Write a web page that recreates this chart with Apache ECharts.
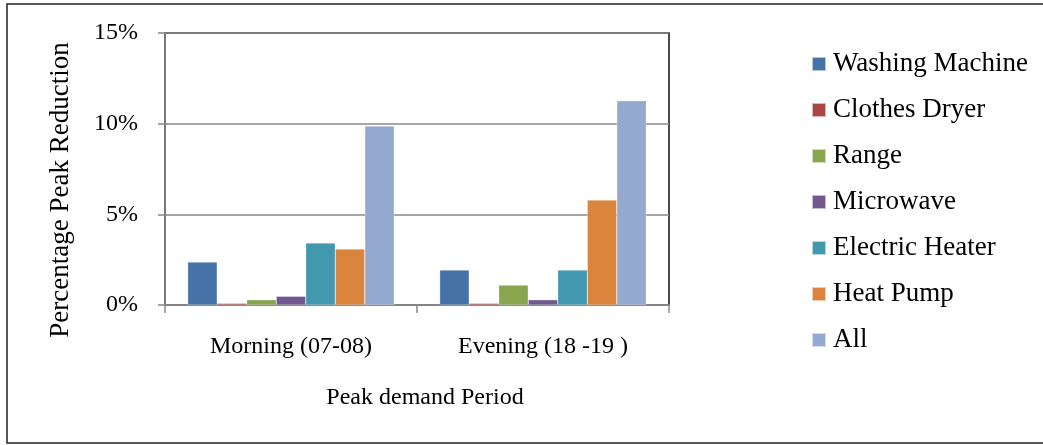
<!DOCTYPE html>
<html>
<head>
<meta charset="utf-8">
<script src="https://cdn.jsdelivr.net/npm/echarts@6/dist/echarts.min.js"></script>
<style>html,body{margin:0;padding:0;background:#fff}#c{width:1043px;height:445px}</style>
</head>
<body>
<div id="c"></div>
<script>
const categories = ['Morning (07-08)', 'Evening (18 -19 )'];
const seriesNames = ['Washing Machine', 'Clothes Dryer', 'Range', 'Microwave', 'Electric Heater', 'Heat Pump', 'All'];
const washingMachine = [2.37, 1.93];
const clothesDryer = [0.09, 0.09];
const range = [0.29, 1.10];
const microwave = [0.48, 0.29];
const electricHeater = [3.42, 1.93];
const heatPump = [3.09, 5.79];
const all = [9.87, 11.27];
const yTicks = [0, 5, 10, 15];
const colors = ['#4572A7', '#AA4643', '#89A54E', '#71588F', '#4198AF', '#DB843D', '#93A9CF'];

const seriesValues = [washingMachine, clothesDryer, range, microwave, electricHeater, heatPump, all];
const FONT = '"Liberation Serif", "Times New Roman", serif';

const chart = echarts.init(document.getElementById('c'), null, {renderer: 'canvas'});
chart.setOption({
  animation: false,
  backgroundColor: '#fff',
  textStyle: {fontFamily: FONT, color: '#000'},
  graphic: [{
    type: 'rect', silent: true, z: -10,
    shape: {x: 7, y: 4, width: 1060, height: 439},
    style: {fill: 'none', stroke: '#222', lineWidth: 1.5}
  }],
  grid: {
    left: 165, top: 33, width: 504, height: 272,
    show: true, borderColor: '#111', borderWidth: 1.5, backgroundColor: 'transparent'
  },
  legend: {
    orient: 'vertical', left: 811, top: 50, padding: 0,
    itemWidth: 14, itemHeight: 14, itemGap: 18,
    icon: 'rect',
    textStyle: {fontFamily: FONT, fontSize: 27, color: '#000', lineHeight: 28, padding: [0, 0, 0, 2]},
    data: seriesNames
  },
  xAxis: {
    type: 'category', data: categories,
    name: 'Peak demand Period', nameLocation: 'middle', nameGap: 81,
    nameTextStyle: {fontFamily: FONT, fontSize: 24, color: '#000', padding: [0, 0, 0, 16]},
    axisLine: {lineStyle: {color: '#888', width: 1.5}},
    axisTick: {show: true, alignWithLabel: false, length: 8, lineStyle: {color: '#888', width: 1.5}},
    axisLabel: {fontFamily: FONT, fontSize: 24, color: '#000', margin: 30}
  },
  yAxis: {
    type: 'value', min: yTicks[0], max: yTicks[yTicks.length - 1], interval: 5,
    name: 'Percentage Peak Reduction', nameLocation: 'middle', nameGap: 91, nameRotate: 90,
    nameTextStyle: {fontFamily: FONT, fontSize: 27, color: '#000', padding: [0, 42, 0, 0]},
    axisLine: {show: true, lineStyle: {color: '#888', width: 1.5}},
    axisTick: {show: true, length: 7, lineStyle: {color: '#888', width: 1.5}},
    axisLabel: {fontFamily: FONT, fontSize: 24, color: '#000', margin: 27, formatter: v => v + '%'},
    splitLine: {show: true, lineStyle: {color: '#888', width: 1.5}}
  },
  series: seriesNames.map((n, i) => ({
    name: n, type: 'bar', data: seriesValues[i],
    barGap: '0%', barCategoryGap: '18%',
    itemStyle: {color: colors[i], borderColor: 'rgba(255,255,255,0.6)', borderWidth: 0.5}
  }))
});
</script>
</body>
</html>
